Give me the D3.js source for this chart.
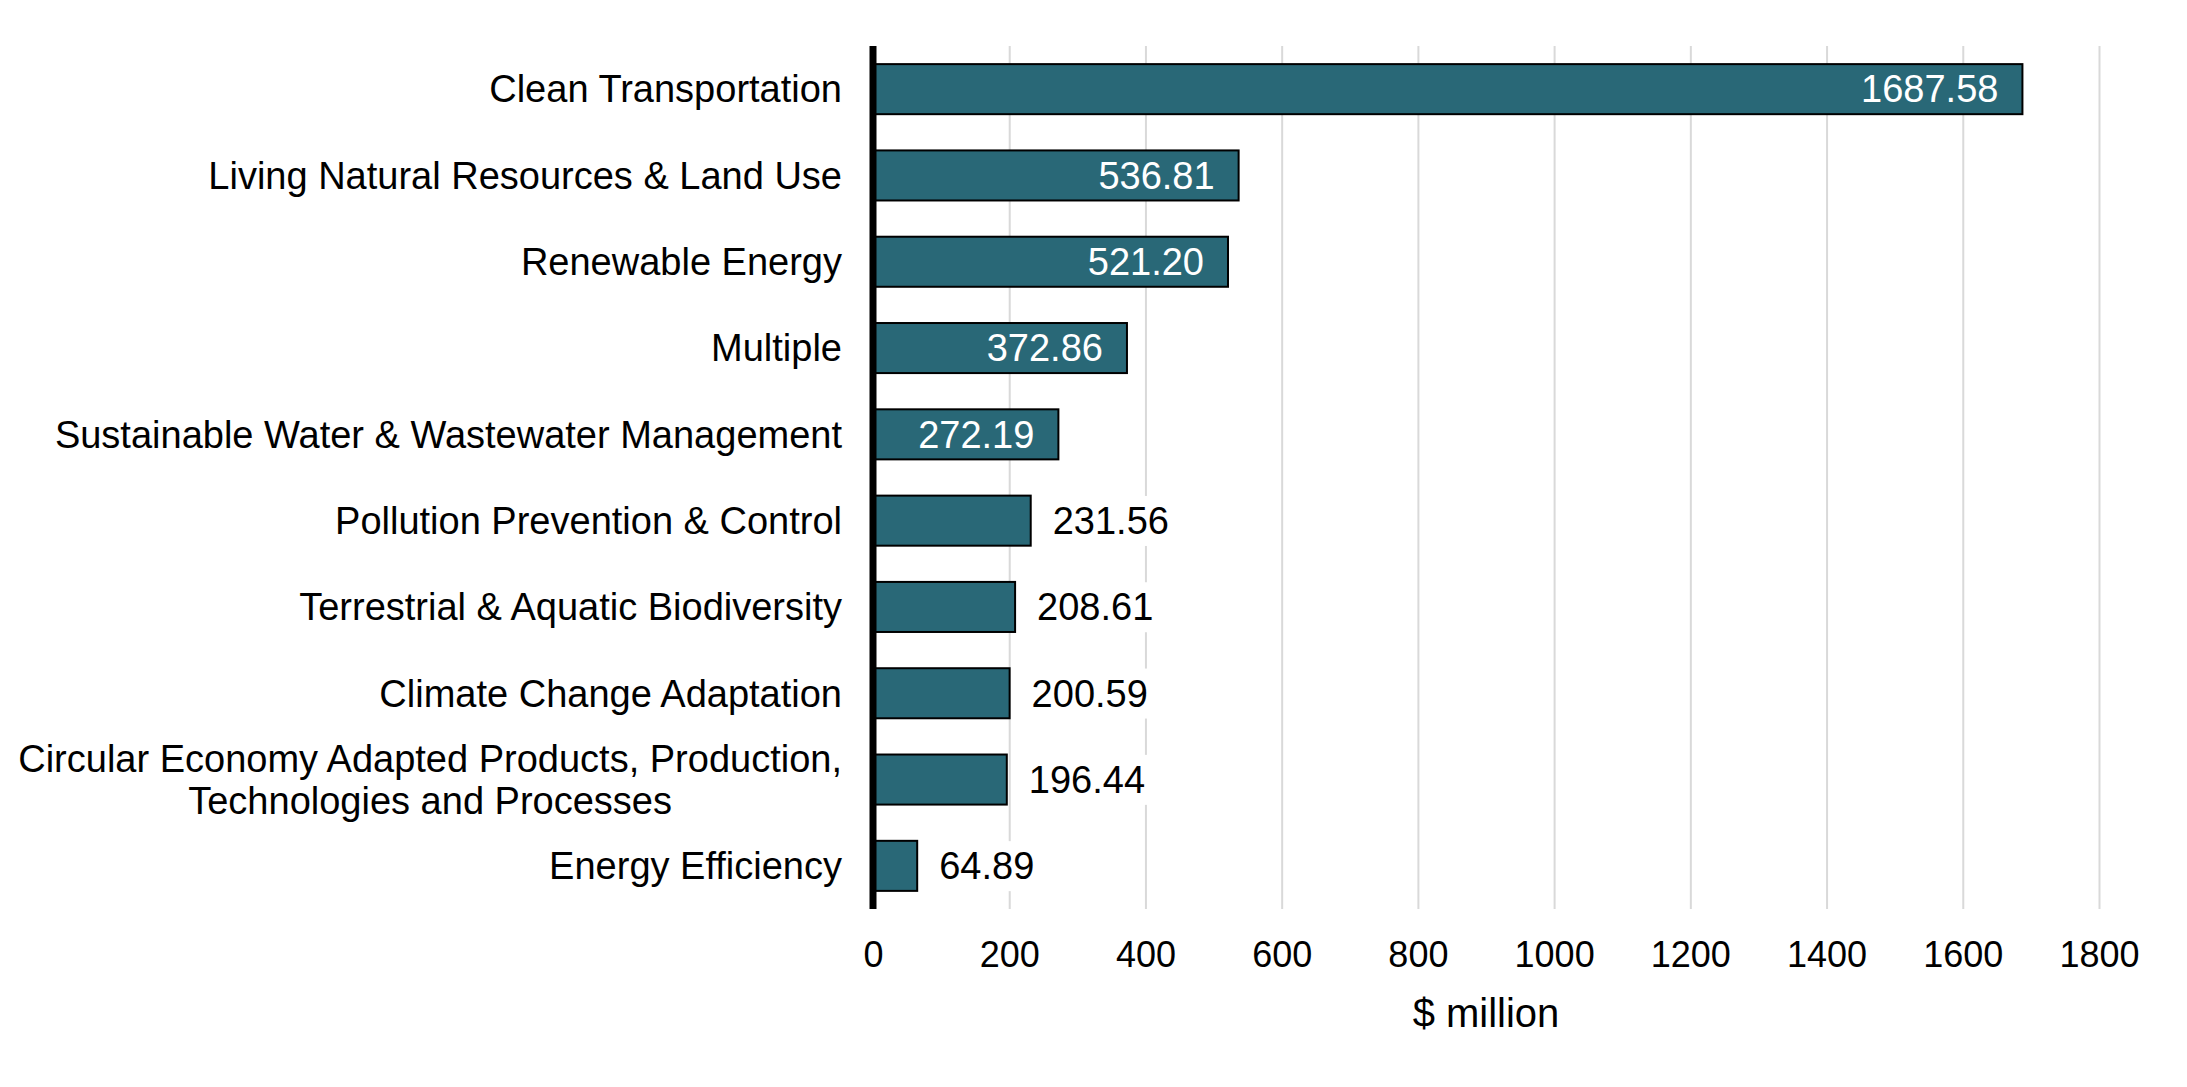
<!DOCTYPE html>
<html>
<head>
  <meta charset="utf-8">
  <script src="https://cdn.jsdelivr.net/npm/d3@7"></script>
  <style>
    html, body { margin: 0; padding: 0; background: #fff; }
    svg { display: block; font-family: "Liberation Sans", Arial, sans-serif; }
    .grid line { stroke: #d9d9d9; stroke-width: 2px; }
    .grid .domain { display: none; }
    .x.axis .domain, .x.axis .tick line { display: none; }
    .x.axis text { font-size: 36px; fill: #000; }
    .cat { font-size: 38px; fill: #000; }
    .val { font-size: 38px; }
  </style>
</head>
<body>
  <svg class="svg" width="2187" height="1087"></svg>
  <script>
    var categories = [
      "Clean Transportation",
      "Living Natural Resources & Land Use",
      "Renewable Energy",
      "Multiple",
      "Sustainable Water & Wastewater Management",
      "Pollution Prevention & Control",
      "Terrestrial & Aquatic Biodiversity",
      "Climate Change Adaptation",
      "Circular Economy Adapted Products, Production,|Technologies and Processes",
      "Energy Efficiency"
    ];
    var values = [1687.58, 536.81, 521.20, 372.86, 272.19, 231.56, 208.61, 200.59, 196.44, 64.89];
    // labels drawn inside the bar (white) for the first five
    var inside = [true, true, true, true, true, false, false, false, false, false];
    var xTicks = [0, 200, 400, 600, 800, 1000, 1200, 1400, 1600, 1800];

    var data = categories.map((c, i) => ({ cat: c, value: values[i], inside: inside[i] }));

    var svg = d3.select('.svg');
    var plotLeft = 873, plotRight = 2099, plotTop = 46, plotBottom = 909;
    var labelX = plotLeft - 31;

    var xScale = d3.scaleLinear()
      .domain([0, 1800])
      .range([plotLeft, plotRight]);

    var yScale = d3.scaleBand()
      .domain(categories)
      .range([plotTop, plotBottom])
      .paddingInner(0.42)
      .paddingOuter(0.21);

    // 格線
    svg.append('g')
      .attr('class', 'grid')
      .attr('transform', `translate(0, ${plotBottom})`)
      .call(d3.axisBottom(xScale).tickValues(xTicks).tickSize(-(plotBottom - plotTop)).tickFormat(''));

    // x 軸
    svg.append('g')
      .attr('class', 'x axis')
      .attr('transform', `translate(0, ${plotBottom})`)
      .call(d3.axisBottom(xScale).tickValues(xTicks).tickSize(0).tickPadding(32).tickFormat(d3.format('d')));

    svg.append('text')
      .attr('x', (plotLeft + plotRight) / 2)
      .attr('y', 1013)
      .attr('dy', '0.35em')
      .attr('text-anchor', 'middle')
      .style('font-size', '40px')
      .text('$ million');

    // 長條
    svg.selectAll('.bar')
      .data(data)
      .enter()
      .append('rect')
      .attr('class', 'bar')
      .attr('x', xScale(0))
      .attr('y', d => yScale(d.cat))
      .attr('width', d => xScale(d.value) - xScale(0))
      .attr('height', yScale.bandwidth())
      .attr('fill', '#296877')
      .attr('stroke', '#000')
      .attr('stroke-width', 2);

    // 類別標籤
    var cats = svg.selectAll('.cat')
      .data(data)
      .enter()
      .append('text')
      .attr('class', 'cat')
      .attr('text-anchor', 'end')
      .attr('x', labelX)
      .attr('y', d => yScale(d.cat) + yScale.bandwidth() / 2);

    cats.each(function (d) {
      var lines = d.cat.split('|');
      var t = d3.select(this);
      if (lines.length === 1) {
        t.append('tspan').attr('dy', '0.35em').text(lines[0]);
        return;
      }
      // two-line label, centred block, right edge on the axis gap
      t.attr('text-anchor', 'middle');
      var tmp = t.append('tspan').text(lines[0]);
      var w = tmp.node().getComputedTextLength();
      tmp.remove();
      var cx = labelX - w / 2;
      lines.forEach((l, i) => {
        t.append('tspan')
          .attr('x', cx)
          .attr('y', yScale(d.cat) + yScale.bandwidth() / 2 + (i - (lines.length - 1) / 2) * 42)
          .attr('dy', '0.35em')
          .text(l);
      });
    });

    // 數值標籤
    var vals = svg.selectAll('.valg')
      .data(data)
      .enter()
      .append('g')
      .attr('class', 'valg');

    vals.each(function (d) {
      var g = d3.select(this);
      var y = yScale(d.cat) + yScale.bandwidth() / 2;
      var t = g.append('text')
        .attr('class', 'val')
        .attr('y', y)
        .attr('dy', '0.35em')
        .attr('x', d.inside ? xScale(d.value) - 24 : xScale(d.value) + 22)
        .attr('text-anchor', d.inside ? 'end' : 'start')
        .attr('fill', d.inside ? '#fff' : '#000')
        .text(d3.format('.2f')(d.value));
      if (!d.inside) {
        var b = t.node().getBBox();
        g.insert('rect', 'text')
          .attr('x', b.x - 4)
          .attr('y', b.y - 4)
          .attr('width', b.width + 8)
          .attr('height', b.height + 8)
          .attr('fill', '#fff');
      }
    });

    // 軸線
    svg.append('line')
      .attr('x1', xScale(0))
      .attr('x2', xScale(0))
      .attr('y1', plotTop)
      .attr('y2', plotBottom)
      .attr('stroke', '#000')
      .attr('stroke-width', 7);
  </script>
</body>
</html>
